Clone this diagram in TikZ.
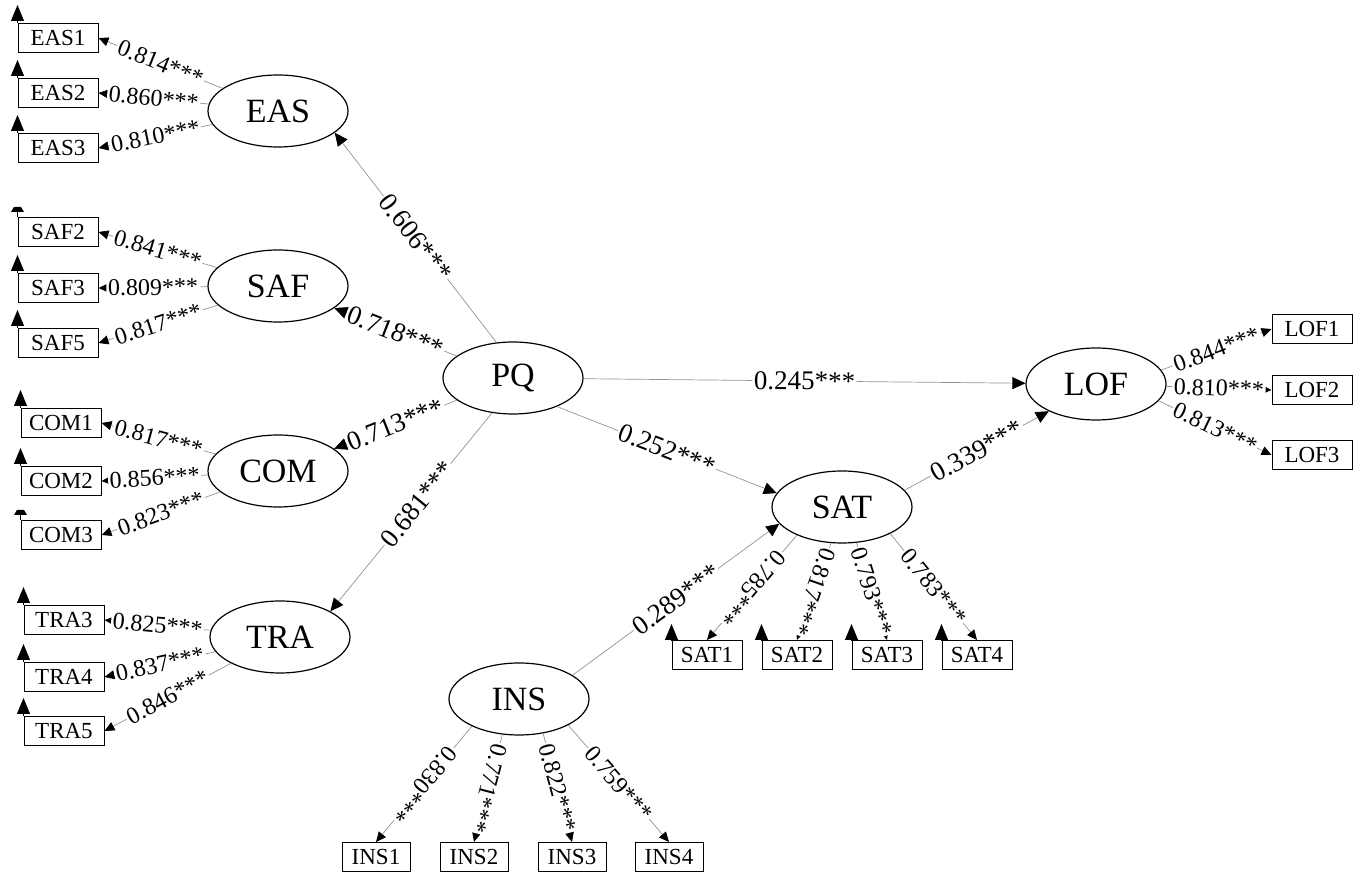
\documentclass[tikz,border=0pt]{standalone}
\usepackage{fontspec}
\setmainfont{Liberation Serif}
\usetikzlibrary{arrows.meta,shapes.geometric}

\begin{document}
\begin{tikzpicture}[x=0.5pt, y=-0.5pt,
    lat/.style={draw, ellipse, line width=0.6pt, minimum width=70pt, minimum height=36pt, inner sep=0pt, font=\fontsize{17}{17}\selectfont},
    ind/.style={draw, rectangle, line width=0.5pt, minimum width=40pt, minimum height=14.5pt, inner sep=0pt, font=\fontsize{11.5}{11.5}\selectfont},
    indsat/.style={ind, minimum width=35pt},
    indins/.style={ind, minimum width=34pt},
    ld/.style={draw=gray!85, line width=0.35pt, -{Triangle[length=5pt, width=4.5pt, color=black]}},
    rg/.style={draw=gray!85, line width=0.35pt, -{Triangle[length=6.5pt, width=6pt, color=black]}},
    err/.style={line width=0.5pt, -{Triangle[length=8pt, width=6.5pt]}},
    lbl/.style={fill=white, inner sep=0.8pt, sloped, font=\fontsize{12}{12}\selectfont},
    slbl/.style={lbl, font=\fontsize{13.5}{13.5}\selectfont}]
    \useasboundingbox (0,0) rectangle (1361,876); % moldura

    % variaveis latentes
    \node[lat] (EAS) at (278,111) {EAS};
    \node[lat] (SAF) at (278,286) {SAF};
    \node[lat] (COM) at (278,471) {COM};
    \node[lat] (TRA) at (280,637) {TRA};
    \node[lat] (PQ) at (513,378) {PQ};
    \node[lat] (SAT) at (842,507) {SAT};
    \node[lat] (LOF) at (1096,384) {LOF};
    \node[lat] (INS) at (519,699) {INS};

    % indicadores
    \node[ind] (EAS1) at (58,38) {EAS1};
    \node[ind] (EAS2) at (58,93) {EAS2};
    \node[ind] (EAS3) at (58,148) {EAS3};
    \node[ind] (SAF2) at (58,232) {SAF2};
    \node[ind] (SAF3) at (58,288) {SAF3};
    \node[ind] (SAF5) at (58,343) {SAF5};
    \node[ind] (COM1) at (61,423) {COM1};
    \node[ind] (COM2) at (61,481) {COM2};
    \node[ind] (COM3) at (61,535) {COM3};
    \node[ind] (TRA3) at (64,620) {TRA3};
    \node[ind] (TRA4) at (64,677) {TRA4};
    \node[ind] (TRA5) at (64,731) {TRA5};
    \node[indsat] (SAT1) at (707,655) {SAT1};
    \node[indsat] (SAT2) at (797,655) {SAT2};
    \node[indsat] (SAT3) at (887,655) {SAT3};
    \node[indsat] (SAT4) at (977,655) {SAT4};
    \node[indins] (INS1) at (376,857) {INS1};
    \node[indins] (INS2) at (474,857) {INS2};
    \node[indins] (INS3) at (572,857) {INS3};
    \node[indins] (INS4) at (669,857) {INS4};
    \node[ind] (LOF1) at (1312,329) {LOF1};
    \node[ind] (LOF2) at (1312,390) {LOF2};
    \node[ind] (LOF3) at (1312,455) {LOF3};

    % setas de erro
    \draw[err] (EAS1.north west) -- ++(0,-18);
    \draw[err] (EAS2.north west) -- ++(0,-18);
    \draw[err] (EAS3.north west) -- ++(0,-18);
    \draw[line width=0.5pt] (SAF2.north west) -- ++(0,-5);
    \fill (SAF2.north west) ++(-6.5,-5) -- ++(13,0) -- ++(-3,-5) -- ++(-7,0) -- cycle; % seta cortada
    \draw[err] (SAF3.north west) -- ++(0,-18);
    \draw[err] (SAF5.north west) -- ++(0,-18);
    \draw[err] (COM1.north west) -- ++(0,-18);
    \draw[err] (COM2.north west) -- ++(0,-18);
    \draw[line width=0.5pt] (COM3.north west) -- ++(0,-5);
    \fill (COM3.north west) ++(-6.5,-5) -- ++(13,0) -- ++(-3,-5) -- ++(-7,0) -- cycle; % seta cortada
    \draw[err] (TRA3.north west) -- ++(0,-18);
    \draw[err] (TRA4.north west) -- ++(0,-18);
    \draw[err] (TRA5.north west) -- ++(0,-18);
    \draw[err] (SAT1.north west) -- ++(0,-16);
    \draw[err] (SAT2.north west) -- ++(0,-16);
    \draw[err] (SAT3.north west) -- ++(0,-16);
    \draw[err] (SAT4.north west) -- ++(0,-16);

    % cargas
    \draw[ld] (EAS) -- (EAS1.east) node[lbl, midway] {0.814***};
    \draw[ld] (EAS) -- (EAS2.east) node[lbl, midway] {0.860***};
    \draw[ld] (EAS) -- (EAS3.east) node[lbl, midway] {0.810***};
    \draw[ld] (SAF) -- (SAF2.east) node[lbl, midway] {0.841***};
    \draw[ld] (SAF) -- (SAF3.east) node[lbl, midway] {0.809***};
    \draw[ld] (SAF) -- (SAF5.east) node[lbl, midway] {0.817***};
    \draw[ld] (COM) -- (COM1.east) node[lbl, midway] {0.817***};
    \draw[ld] (COM) -- (COM2.east) node[lbl, midway] {0.856***};
    \draw[ld] (COM) -- (COM3.east) node[lbl, midway] {0.823***};
    \draw[ld] (TRA) -- (TRA3.east) node[lbl, midway] {0.825***};
    \draw[ld] (TRA) -- (TRA4.east) node[lbl, midway] {0.837***};
    \draw[ld] (TRA) -- (TRA5.east) node[lbl, midway] {0.846***};
    \draw[ld] (SAT.-148) -- (SAT1.north) node[lbl, midway, allow upside down] {0.785***};
    \draw[ld] (SAT.-107) -- (SAT2.north) node[lbl, midway, allow upside down] {0.817***};
    \draw[ld] (SAT.-68) -- (SAT3.north) node[lbl, midway, allow upside down] {0.793***};
    \draw[ld] (SAT.-29) -- (SAT4.north) node[lbl, midway, allow upside down] {0.783***};
    \draw[ld] (INS.-150) -- (INS1.north) node[lbl, midway, allow upside down] {0.830***};
    \draw[ld] (INS.-115) -- (INS2.north) node[lbl, midway, allow upside down] {0.771***};
    \draw[ld] (INS.-55) -- (INS3.north) node[lbl, midway, allow upside down] {0.822***};
    \draw[ld] (INS.-28) -- (INS4.north) node[lbl, midway, allow upside down] {0.759***};
    \draw[ld] (LOF.12) -- (LOF1.west) node[lbl, midway] {0.844***};
    \draw[ld] (LOF) -- (LOF2.west) node[lbl, midway] {0.810***};
    \draw[ld] (LOF.-15) -- (LOF3.west) node[lbl, midway] {0.813***};

    % caminhos estruturais
    \draw[rg] (PQ.115) -- (EAS.-21) node[slbl, midway] {0.606***};
    \draw[rg] (PQ) -- (SAF) node[slbl, midway] {0.718***};
    \draw[rg] (PQ) -- (COM) node[slbl, midway] {0.713***};
    \draw[rg] (PQ.-121) -- (TRA.27) node[slbl, pos=0.46] {0.681***};
    \draw[rg] (PQ) -- (LOF) node[slbl, midway] {0.245***};
    \draw[rg] (PQ.-33) -- (SAT.168) node[slbl, midway] {0.252***};
    \draw[rg] (SAT.15) -- (LOF.-150) node[slbl, midway] {0.339***};
    \draw[rg] (INS.24) -- (SAT.-165) node[slbl, midway] {0.289***};
\end{tikzpicture}
\end{document}
